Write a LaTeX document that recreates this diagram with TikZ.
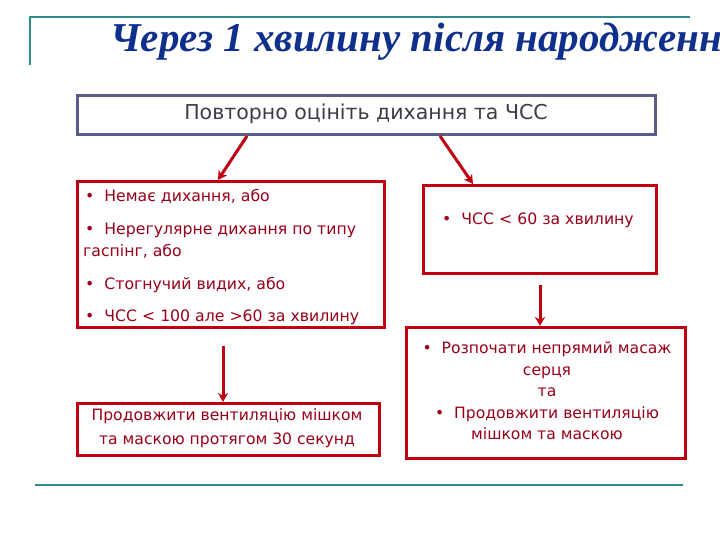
\documentclass[tikz,border=0pt]{standalone}
\usepackage{fontspec}
\setmainfont{DejaVu Sans}
\newfontfamily\titlefont{Liberation Serif}
\usetikzlibrary{arrows.meta,calc}
\definecolor{teal1}{HTML}{2E8C8C}
\definecolor{navy1}{HTML}{0F2F8C}
\definecolor{boxred}{HTML}{C00010}
\definecolor{txtred}{HTML}{980018}
\definecolor{graybox}{HTML}{5C5C88}
\definecolor{graytxt}{HTML}{3C3C48}
\tikzset{
  redbox/.style={draw=boxred,line width=3pt,minimum width=#1,inner sep=0pt,anchor=north west},
  redtxt/.style={text=txtred,font=\fontsize{15.7}{18}\selectfont,inner sep=0pt},
  arr/.style={draw=boxred,line width=3pt,-{Stealth[length=9pt,width=10pt]}},
  rule/.style={draw=teal1,line width=2.5pt}
}
\begin{document}
\begin{tikzpicture}[x=1pt,y=-1pt]
\useasboundingbox (0,0) rectangle (720,540);
\clip (0,0) rectangle (720,540);
% decoration
\coordinate (r1) at (30,17);
\coordinate (r2) at (690,17);
\coordinate (r3) at (30,65);
\draw[rule] (r3) -- (r1) -- (r2);
\coordinate (b1) at (35,485);
\coordinate (b2) at (683,485);
\draw[rule] (b1) -- (b2);
% title
\node[anchor=base west,inner sep=0pt,text=navy1,font=\titlefont\bfseries\itshape\fontsize{41}{46}\selectfont] (title) at (110,52) {Через 1 хвилину після народження};
% top box
\node[draw=graybox,line width=3pt,minimum width=578pt,minimum height=39pt,anchor=north west,inner sep=0pt] (top) at (76,94) {};
\node[text=graytxt,font=\fontsize{20.5}{24}\selectfont,inner sep=0pt] (toptxt) at (366,114) {Повторно оцініть дихання та ЧСС};
% left box
\node[redbox=307pt,minimum height=146pt] (left) at (76,180) {};
\node[redtxt,anchor=base west] (l1) at (85,202) {•\ \ Немає дихання, або};
\node[redtxt,anchor=base west] (l2) at (85,235) {•\ \ Нерегулярне дихання по типу};
\node[redtxt,anchor=base west] (l3) at (83,256) {гаспінг, або};
\node[redtxt,anchor=base west] (l4) at (85,289) {•\ \ Стогнучий видих, або};
\node[redtxt,anchor=base west] (l5) at (85,321) {•\ \ ЧСС < 100 але >60 за хвилину};
% right box
\node[redbox=233pt,minimum height=88pt] (right) at (422,184) {};
\node[redtxt] (r1t) at (538,220) {•\ \ ЧСС < 60 за хвилину};
% bottom left
\node[redbox=302pt,minimum height=52pt] (bl) at (76,402) {};
\node[redtxt,align=center,font=\fontsize{15.6}{24}\selectfont] (bltxt) at (227,428) {Продовжити вентиляцію мішком\\та маскою протягом 30 секунд};
% bottom right
\node[redbox=279pt,minimum height=131pt] (br) at (405,326) {};
\node[redtxt,align=center,font=\fontsize{15.6}{21.5}\selectfont] (brtxt) at (547,391) {•\ \ Розпочати непрямий масаж\\серця\\та\\•\ \ Продовжити вентиляцію\\мішком та маскою};
% arrows
\draw[arr] ($(top.south west)+(171,0)$) -- ($(left.north west)+(142,0)$);
\draw[arr] ($(top.south west)+(364,0)$) -- ($(right.north west)+(51,0)$);
\draw[arr] ($(right.south west)+(118,10)$) -- ($(br.north west)+(135,0)$);
\draw[arr] ($(left.south west)+(147,17)$) -- ($(bl.north west)+(147,0)$);
\end{tikzpicture}
\end{document}
